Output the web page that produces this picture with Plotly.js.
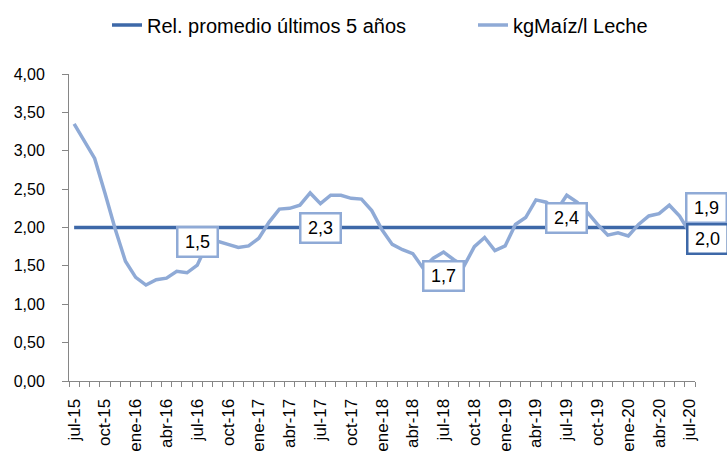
<!DOCTYPE html>
<html>
<head>
<meta charset="utf-8">
<script src="https://cdn.plot.ly/plotly-3.0.1.min.js"></script>
<style>html,body{margin:0;padding:0;background:#fff;}#chart{width:727px;height:453px;}</style>
</head>
<body>
<div id="chart"></div>
<script>
const months = ['jul-15','ago-15','sep-15','oct-15','nov-15','dic-15',
  'ene-16','feb-16','mar-16','abr-16','may-16','jun-16','jul-16','ago-16','sep-16','oct-16','nov-16','dic-16',
  'ene-17','feb-17','mar-17','abr-17','may-17','jun-17','jul-17','ago-17','sep-17','oct-17','nov-17','dic-17',
  'ene-18','feb-18','mar-18','abr-18','may-18','jun-18','jul-18','ago-18','sep-18','oct-18','nov-18','dic-18',
  'ene-19','feb-19','mar-19','abr-19','may-19','jun-19','jul-19','ago-19','sep-19','oct-19','nov-19','dic-19',
  'ene-20','feb-20','mar-20','abr-20','may-20','jun-20','jul-20'];

const maizLeche = [3.35,3.12,2.90,2.45,1.98,1.56,
  1.35,1.25,1.32,1.34,1.43,1.41,1.51,1.80,1.82,1.78,1.74,1.76,
  1.86,2.07,2.24,2.25,2.29,2.45,2.31,2.42,2.42,2.38,2.37,2.22,
  1.97,1.78,1.71,1.66,1.47,1.60,1.68,1.58,1.50,1.75,1.87,1.70,
  1.76,2.04,2.13,2.36,2.33,2.22,2.42,2.33,2.20,2.04,1.90,1.93,
  1.89,2.04,2.15,2.18,2.29,2.15,1.93];

const promedio5 = [2.00,2.00,2.00,2.00,2.00,2.00,
  2.00,2.00,2.00,2.00,2.00,2.00,2.00,2.00,2.00,2.00,2.00,2.00,
  2.00,2.00,2.00,2.00,2.00,2.00,2.00,2.00,2.00,2.00,2.00,2.00,
  2.00,2.00,2.00,2.00,2.00,2.00,2.00,2.00,2.00,2.00,2.00,2.00,
  2.00,2.00,2.00,2.00,2.00,2.00,2.00,2.00,2.00,2.00,2.00,2.00,
  2.00,2.00,2.00,2.00,2.00,2.00,2.00];

const tickLabels = ['jul-15','oct-15','ene-16','abr-16','jul-16','oct-16','ene-17','abr-17','jul-17',
  'oct-17','ene-18','abr-18','jul-18','oct-18','ene-19','abr-19','jul-19','oct-19','ene-20','abr-20','jul-20'];

const labelMonthsMaiz = ['jul-16','jul-17','jul-18','jul-19','jul-20'];
const labelMonthsProm = ['jul-20'];

const nameProm = 'Rel. promedio últimos 5 años';
const nameMaiz = 'kgMaíz/l Leche';

const darkBlue = '#3D68A8';
const lightBlue = '#8FAAD6';
const axisGray = '#868686';
const FONT = 'Liberation Sans, Arial, sans-serif';

const idx = months.map((m, i) => i);
const fmt = v => v.toFixed(1).replace('.', ',');

const traces = [
  {x: idx, y: promedio5, type: 'scatter', mode: 'lines', name: nameProm, legend: 'legend',
   line: {color: darkBlue, width: 3.5}, hoverinfo: 'skip'},
  {x: idx, y: maizLeche, type: 'scatter', mode: 'lines', name: nameMaiz, legend: 'legend2',
   line: {color: lightBlue, width: 3.5}, hoverinfo: 'skip'}
];

// label offsets (pixels) relative to the point
const maizOffsets = {'jul-16': [0, 23], 'jul-17': [0, -24], 'jul-18': [0, -24], 'jul-19': [0, -23], 'jul-20': [17, 25]};
const promOffsets = {'jul-20': [18, -11]};

function box(month, series, color, off) {
  const i = months.indexOf(month);
  return {
    x: i, y: series[i], xref: 'x', yref: 'y', text: fmt(series[i]), showarrow: false,
    xshift: off[0], yshift: off[1],
    font: {family: FONT, size: 18, color: '#000'},
    bgcolor: '#fff', bordercolor: color, borderwidth: 2.5, borderpad: 3,
    width: 32, height: 21
  };
}

const annotations = [];
labelMonthsMaiz.forEach(m => annotations.push(box(m, maizLeche, lightBlue, maizOffsets[m])));
labelMonthsProm.forEach(m => annotations.push(box(m, promedio5, darkBlue, promOffsets[m])));

const legendFont = {family: FONT, size: 20, color: '#000'};
const legendBase = {orientation: 'h', xref: 'container', yref: 'container', xanchor: 'left', yanchor: 'middle',
  y: 1 - 25 / 453, font: legendFont, bgcolor: 'rgba(0,0,0,0)', borderwidth: 0};

const layout = {
  width: 727, height: 453,
  margin: {l: 69, r: 32, t: 74, b: 72, pad: 0},
  paper_bgcolor: '#fff', plot_bgcolor: '#fff',
  separators: ',.',
  font: {family: FONT, color: '#000'},
  showlegend: true,
  legend: Object.assign({}, legendBase, {x: 107 / 727}),
  legend2: Object.assign({}, legendBase, {x: 473 / 727}),
  xaxis: {
    range: [-0.5, months.length - 0.5], showgrid: false, zeroline: false,
    showline: true, linecolor: axisGray, linewidth: 1,
    tickmode: 'array', tickvals: tickLabels.map(t => months.indexOf(t)), ticktext: tickLabels,
    ticks: '', tickangle: -90, tickfont: {family: FONT, size: 17, color: '#000'}, ticklabelstandoff: 10,
    minor: {tickmode: 'linear', tick0: -0.5, dtick: 1, ticks: 'outside', ticklen: 5, tickcolor: axisGray, tickwidth: 1, showgrid: false}
  },
  yaxis: {
    range: [0, 4], dtick: 0.5, tick0: 0, tickformat: '.2f', showgrid: false, zeroline: false,
    showline: true, linecolor: axisGray, linewidth: 1,
    ticks: 'outside', ticklen: 6, tickcolor: axisGray, tickwidth: 1,
    tickfont: {family: FONT, size: 16, color: '#000'}, ticklabelstandoff: 14
  },
  annotations: annotations
};

Plotly.newPlot('chart', traces, layout, {displayModeBar: false, staticPlot: true});
</script>
</body>
</html>
